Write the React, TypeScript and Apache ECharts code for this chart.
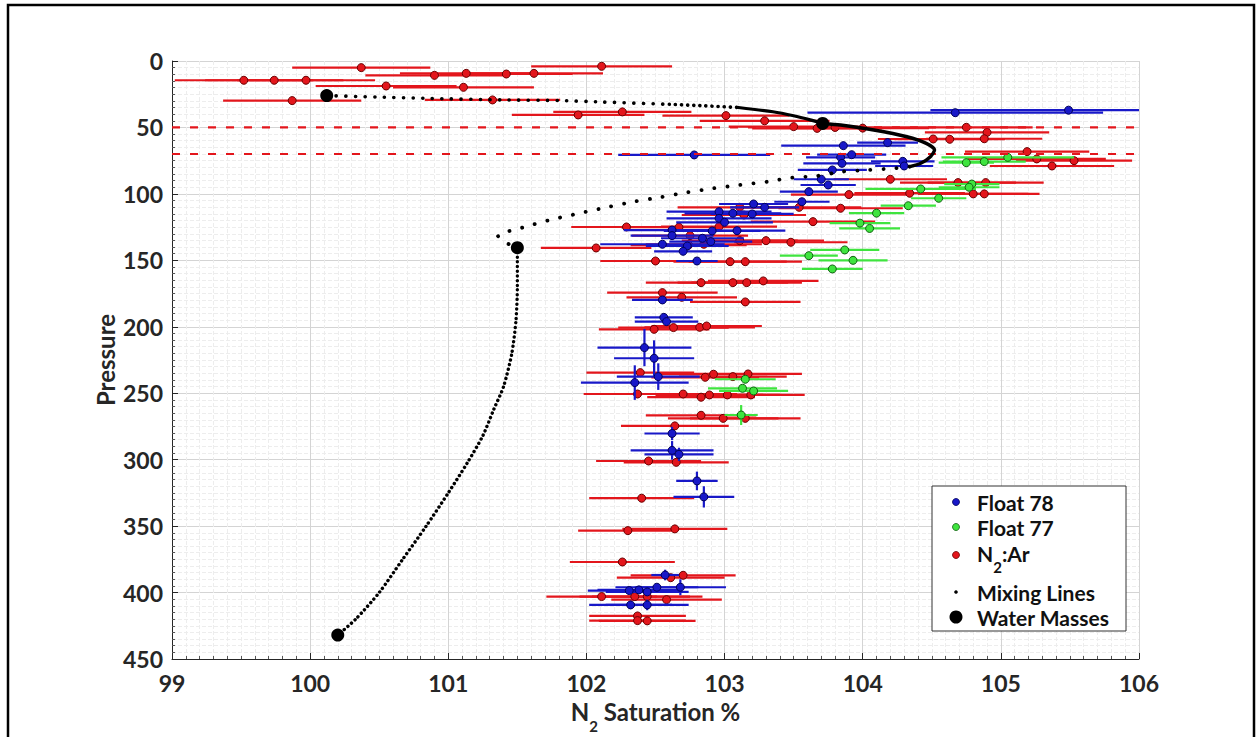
import React, { useEffect, useRef } from "react";
import * as echarts from "echarts";

const X_MIN = 99;
const X_MAX = 106;
const Y_MIN = 0;
const Y_MAX = 450;
const xTickStep = 1;
const yTickStep = 50;

// [saturation %, pressure, horizontal half-error, vertical half-error]
const float78 = [
  [104.67, 38.9, 1.07, 0], [105.49, 37.0, 1.0, 0], [102.78, 70.7, 0.55, 0],
  [103.86, 63.7, 0.45, 0], [104.18, 61.4, 0.22, 0], [103.92, 70.5, 0.25, 0],
  [103.84, 72.5, 0.25, 0], [104.29, 75.5, 0.23, 0], [104.3, 79.0, 0.21, 0],
  [103.85, 77.0, 0.28, 0], [103.78, 82.0, 0.25, 0], [103.7, 89.0, 0.2, 0],
  [103.75, 93.3, 0.2, 0], [103.61, 98.3, 0.21, 0], [103.56, 105.9, 0.2, 0],
  [103.21, 107.6, 0.25, 0], [103.29, 110.1, 0.25, 0], [102.96, 113.4, 0.38, 0],
  [103.06, 114.6, 0.35, 0], [103.2, 115.1, 0.3, 0], [102.96, 118.4, 0.38, 0],
  [103.0, 121.4, 0.35, 0], [102.91, 127.9, 0.35, 0], [103.09, 127.7, 0.35, 0],
  [102.62, 127.2, 0.35, 0], [102.62, 131.4, 0.3, 0], [102.84, 133.4, 0.3, 0],
  [102.9, 135.9, 0.3, 0], [102.55, 137.9, 0.45, 0], [102.73, 139.2, 0.3, 0],
  [102.7, 143.2, 0.21, 0], [102.8, 150.5, 0.15, 0], [102.55, 179.8, 0.22, 0],
  [102.56, 192.9, 0.21, 0], [102.58, 196.1, 0.23, 0], [102.42, 215.7, 0.34, 14],
  [102.49, 223.7, 0.29, 13.5], [102.52, 237.5, 0.3, 10], [102.35, 242.0, 0.39, 13],
  [102.62, 280.3, 0.2, 5], [102.62, 293.0, 0.3, 7], [102.67, 296.0, 0.25, 5],
  [102.8, 316.0, 0.15, 7], [102.85, 328.0, 0.22, 8], [102.57, 386.8, 0.1, 4],
  [102.68, 396.0, 0.33, 6], [102.51, 396.0, 0.3, 0], [102.31, 398.5, 0.3, 0],
  [102.38, 398.0, 0.3, 0], [102.44, 399.5, 0.3, 0], [102.32, 409.3, 0.3, 0],
  [102.44, 409.3, 0.3, 4],
];

const float77 = [
  [104.75, 76.5, 0.2, 0], [104.88, 75.7, 0.3, 0], [105.05, 72.5, 0.48, 0],
  [104.79, 92.6, 0.2, 0], [104.77, 95.0, 0.22, 0], [104.42, 96.3, 0.4, 0],
  [104.55, 103.3, 0.2, 0], [104.33, 108.9, 0.2, 0], [104.1, 114.5, 0.2, 0],
  [103.98, 122.0, 0.22, 0], [104.05, 126.0, 0.22, 0], [103.87, 142.2, 0.25, 0],
  [103.61, 146.5, 0.21, 0], [103.93, 150.0, 0.25, 0], [103.78, 156.5, 0.22, 0],
  [103.15, 239.5, 0.22, 0], [103.13, 246.3, 0.25, 0], [103.21, 248.3, 0.25, 0],
  [103.12, 266.4, 0.12, 7.5],
];

const n2ar = [
  [100.37, 5.0, 0.5, 0], [102.11, 4.0, 0.51, 0], [99.52, 14.5, 0.5, 0],
  [99.74, 14.5, 0.5, 0], [99.97, 14.5, 0.5, 0], [100.9, 10.8, 0.5, 0],
  [101.13, 9.3, 0.48, 0], [101.42, 9.8, 0.48, 0], [101.62, 9.3, 0.5, 0],
  [100.55, 18.8, 0.51, 0], [101.11, 19.8, 0.51, 0], [99.87, 29.8, 0.5, 0],
  [101.32, 29.3, 0.49, 0], [101.94, 40.6, 0.48, 0], [102.26, 38.3, 0.5, 0],
  [103.01, 41.1, 0.46, 0], [103.29, 45.0, 0.47, 0], [103.5, 49.4, 0.47, 0],
  [103.67, 50.7, 0.47, 0], [103.8, 50.0, 0.47, 0], [104.0, 50.5, 0.48, 0],
  [104.75, 49.9, 0.48, 0], [104.9, 53.7, 0.45, 0], [104.51, 58.7, 0.4, 0],
  [104.63, 58.9, 0.4, 0], [104.88, 58.5, 0.42, 0], [105.19, 68.2, 0.45, 0],
  [105.26, 73.7, 0.5, 0], [105.37, 79.0, 0.45, 0], [105.53, 75.0, 0.42, 0],
  [104.2, 89.0, 0.41, 0], [104.69, 91.5, 0.42, 0], [104.89, 91.5, 0.42, 0],
  [104.8, 100.0, 0.4, 0], [104.88, 100.0, 0.4, 0], [104.34, 99.5, 0.4, 0],
  [103.9, 100.5, 0.42, 0], [103.54, 110.1, 0.45, 0], [103.84, 110.8, 0.45, 0],
  [103.64, 120.9, 0.45, 0], [103.11, 110.1, 0.45, 0], [103.14, 115.9, 0.45, 0],
  [102.96, 124.7, 0.42, 0], [102.29, 124.9, 0.4, 0], [102.67, 125.1, 0.42, 0],
  [102.75, 131.4, 0.42, 0], [103.11, 135.2, 0.42, 0], [103.3, 135.2, 0.42, 0],
  [103.48, 136.4, 0.41, 0], [102.74, 138.5, 0.42, 0], [102.85, 137.9, 0.42, 0],
  [102.07, 140.7, 0.4, 0], [102.5, 150.5, 0.4, 0], [103.04, 151.0, 0.41, 0],
  [103.15, 151.0, 0.41, 0], [102.83, 166.8, 0.4, 0], [103.06, 166.8, 0.4, 0],
  [103.16, 166.8, 0.4, 0], [103.28, 165.5, 0.4, 0], [102.55, 174.3, 0.4, 0],
  [102.69, 177.8, 0.4, 0], [103.15, 181.3, 0.4, 0], [102.49, 201.9, 0.4, 0],
  [102.63, 200.6, 0.4, 0], [102.82, 200.4, 0.4, 0], [102.87, 199.4, 0.4, 0],
  [102.39, 234.5, 0.39, 0], [102.86, 238.0, 0.39, 0], [102.92, 235.7, 0.39, 0],
  [103.06, 237.5, 0.39, 0], [103.17, 235.5, 0.39, 0], [102.37, 250.6, 0.39, 0],
  [102.7, 250.6, 0.39, 0], [102.83, 253.0, 0.39, 0], [102.89, 251.3, 0.39, 0],
  [103.02, 251.3, 0.39, 0], [103.19, 251.3, 0.39, 0], [102.83, 266.6, 0.4, 0],
  [102.99, 268.9, 0.4, 0], [103.15, 268.9, 0.4, 0], [102.64, 274.6, 0.39, 0],
  [102.45, 301.0, 0.38, 0], [102.65, 302.0, 0.38, 0], [102.4, 329.0, 0.38, 0],
  [102.3, 353.4, 0.36, 0], [102.64, 352.1, 0.38, 0], [102.26, 377.0, 0.38, 0],
  [102.7, 387.0, 0.38, 0], [102.61, 388.8, 0.39, 0], [102.11, 403.0, 0.4, 0],
  [102.35, 403.0, 0.4, 0], [102.44, 403.0, 0.4, 0], [102.58, 405.3, 0.4, 0],
  [102.37, 417.6, 0.35, 0], [102.37, 421.1, 0.35, 0], [102.44, 421.3, 0.35, 0],
];

// mixing lines
const mixUpperSparse = [
  [100.12, 26], [100.5, 27.2], [100.84, 28.1], [101.4, 29.3], [101.81, 29.8],
  [102.1, 30.8], [102.6, 32.6],
];
const mixUpperDense = [[102.6, 32.6], [102.85, 33.7], [103.1, 35.0]];
const mixUpperSolid = [[103.1, 35.0], [103.35, 38.2], [103.5, 41.2], [103.62, 44.3], [103.71, 47]];
const mixBulge = [
  [103.71, 47], [103.84, 48.2], [104.08, 51.9], [104.32, 57], [104.46, 62],
  [104.52, 67], [104.49, 72], [104.42, 77], [104.34, 79.5],
];
const mixMiddle = [
  [104.34, 79.5], [104.22, 80.8], [104.04, 82], [103.85, 83.3], [103.67, 86.5],
  [103.49, 87.8], [103.31, 90.8], [103.11, 93.3], [102.92, 95.8], [102.73, 98.8],
  [102.53, 102.6], [102.34, 105.9], [102.15, 110], [101.95, 114.6], [101.76, 119],
  [101.56, 124.7], [101.36, 131.7], [101.41, 136.4], [101.5, 140.5],
];
const mixDeep = [
  [101.5, 140.5], [101.5, 150], [101.5, 170], [101.49, 195], [101.46, 220],
  [101.4, 245], [101.33, 262], [101.25, 282], [101.14, 302], [101.0, 325],
  [100.84, 350], [100.67, 375], [100.5, 400], [100.33, 420], [100.2, 432],
];
const waterMasses = [[100.12, 26], [103.71, 47], [101.5, 140.5], [100.2, 432]];
const dashedPressures = [50, 70];

const legendItems = ["Float 78", "Float 77", "N2:Ar", "Mixing Lines", "Water Masses"];

const FONT = "Lato, 'Open Sans', sans-serif";
const AX = "#262626";
const RED = "#e3161c";
const BLUE = "#1818c8";
const GREEN = "#3fe43f";

function errorSeries(name: string, data: number[][], color: string, z: number) {
  return {
    type: "custom",
    name,
    data,
    z,
    silent: true,
    encode: { x: 0, y: 1 },
    renderItem: (_params: any, api: any) => {
      const x = api.value(0);
      const p = api.value(1);
      const hw = api.value(2);
      const vh = api.value(3);
      const a = api.coord([Math.max(X_MIN, x - hw), p]);
      const b = api.coord([Math.min(X_MAX, x + hw), p]);
      const children: any[] = [
        { type: "line", shape: { x1: a[0], y1: a[1], x2: b[0], y2: b[1] }, style: { stroke: color, lineWidth: 2.2 } },
      ];
      if (vh > 0) {
        const t = api.coord([x, p - vh]);
        const d = api.coord([x, p + vh]);
        children.push({ type: "line", shape: { x1: t[0], y1: t[1], x2: d[0], y2: d[1] }, style: { stroke: color, lineWidth: 2.2 } });
      }
      return { type: "group", children };
    },
  };
}

function dotSeries(name: string, data: number[][], fill: string, border: string, z: number) {
  return {
    type: "scatter",
    name,
    data: data.map((d) => [d[0], d[1]]),
    z,
    symbolSize: 8,
    itemStyle: { color: fill, borderColor: border, borderWidth: 1, opacity: 1 },
  };
}

function mixSeries(data: number[][], width: number, dash: any, z: number) {
  return {
    type: "line",
    data,
    z,
    symbol: "none",
    smooth: 0.25,
    silent: true,
    lineStyle: { color: "#000", width, type: dash, cap: "round", opacity: 1 },
  };
}

export default function App() {
  const ref = useRef<HTMLDivElement>(null);
  useEffect(() => {
    if (!ref.current) return;
    const chart = echarts.init(ref.current, undefined, { renderer: "svg" });
    const cv = document.createElement("canvas").getContext("2d")!;
    const mw = (t: string, size: number) => {
      cv.font = `bold ${size}px ${FONT}`;
      return cv.measureText(t).width;
    };

    // x axis title with subscript
    const tSize = 24;
    const sSize = 15;
    const wN = mw("N", tSize);
    const w2 = mw("2", sSize);
    const wRest = mw(" Saturation %", tSize);
    const tStart = 655.5 - (wN + w2 + wRest) / 2;
    const tY = 711;

    const lgX = 977;
    const lgRows = [502, 527, 553, 592, 617];
    const lgSize = 21;
    const lgN = mw("N", lgSize);
    const lg2 = mw("2", 15);

    const txt = (text: string, x: number, y: number, size: number, extra: any = {}) => ({
      type: "text",
      x,
      y,
      z: 100,
      silent: true,
      style: {
        text,
        fontSize: size,
        fontWeight: "bold",
        fontFamily: FONT,
        fill: "#111",
        textVerticalAlign: "middle",
        ...extra,
      },
    });

    const graphic: any[] = [
      { type: "rect", z: 100, silent: true, shape: { x: 8, y: 5, width: 1246, height: 800 }, style: { fill: "none", stroke: "#000", lineWidth: 2.5 } },
      { type: "rect", z: 100, silent: true, shape: { x: 932, y: 486, width: 194, height: 145 }, style: { fill: "#fff", stroke: "#333", lineWidth: 1 } },
      { type: "circle", z: 101, silent: true, shape: { cx: 956, cy: lgRows[0], r: 3.5 }, style: { fill: BLUE, stroke: "#00005a", lineWidth: 0.8 } },
      { type: "circle", z: 101, silent: true, shape: { cx: 956, cy: lgRows[1], r: 3.5 }, style: { fill: GREEN, stroke: "#106010", lineWidth: 0.8 } },
      { type: "circle", z: 101, silent: true, shape: { cx: 956, cy: lgRows[2] + 2, r: 3.5 }, style: { fill: RED, stroke: "#6a0000", lineWidth: 0.8 } },
      { type: "circle", z: 101, silent: true, shape: { cx: 956, cy: lgRows[3], r: 1.8 }, style: { fill: "#000" } },
      { type: "circle", z: 101, silent: true, shape: { cx: 956, cy: lgRows[4], r: 6.5 }, style: { fill: "#000" } },
      txt(legendItems[0], lgX, lgRows[0], lgSize),
      txt(legendItems[1], lgX, lgRows[1], lgSize),
      txt("N", lgX, lgRows[2], lgSize),
      txt("2", lgX + lgN, lgRows[2] + 14, 15),
      txt(":Ar", lgX + lgN + lg2, lgRows[2], lgSize),
      txt(legendItems[3], lgX, lgRows[3], lgSize),
      txt(legendItems[4], lgX, lgRows[4], lgSize),
      txt("N", tStart, tY, tSize, { fill: AX }),
      txt("2", tStart + wN, tY + 15, sSize, { fill: AX }),
      txt(" Saturation %", tStart + wN + w2, tY, tSize, { fill: AX }),
      {
        type: "text",
        x: 105,
        y: 360,
        rotation: Math.PI / 2,
        z: 100,
        silent: true,
        style: { text: "Pressure", fontSize: tSize, fontWeight: "bold", fontFamily: FONT, fill: AX, textAlign: "center", textVerticalAlign: "middle" },
      },
    ];

    const axisCommon = {
      type: "value",
      axisLine: { show: true, onZero: false, lineStyle: { color: AX, width: 1 } },
      axisTick: { show: true, inside: true, length: 6, lineStyle: { color: AX } },
      minorTick: { show: true, splitNumber: 10, length: 3, lineStyle: { color: "#555" } },
      splitLine: { show: true, lineStyle: { color: "#d4d4d4", width: 1 } },
      minorSplitLine: { show: true, lineStyle: { color: "#ededed", width: 1, type: "dashed" } },
      axisLabel: { fontSize: 23, fontWeight: "bold", fontFamily: FONT, color: AX },
    };

    chart.setOption({
      animation: false,
      backgroundColor: "#fff",
      grid: { left: 172, right: 118, top: 61, bottom: 78 },
      xAxis: { ...axisCommon, min: X_MIN, max: X_MAX, interval: xTickStep, axisLabel: { ...axisCommon.axisLabel, margin: 12 } },
      yAxis: { ...axisCommon, min: Y_MIN, max: Y_MAX, interval: yTickStep, inverse: true, axisLabel: { ...axisCommon.axisLabel, margin: 9 } },
      graphic,
      series: [
        errorSeries("N2:Ar bars", n2ar, RED, 2),
        dotSeries("N2:Ar", n2ar, RED, "#6a0000", 3),
        errorSeries("Float 78 bars", float78, BLUE, 4),
        dotSeries("Float 78", float78, BLUE, "#00005a", 5),
        errorSeries("Float 77 bars", float77, GREEN, 6),
        dotSeries("Float 77", float77, GREEN, "#106010", 7),
        ...dashedPressures.map((p) => ({
          type: "line",
          z: 8,
          symbol: "none",
          silent: true,
          data: [[X_MIN, p], [X_MAX, p]],
          lineStyle: { color: RED, width: 2.2, type: [8, 10] },
        })),
        mixSeries(mixUpperSparse, 3.6, [0.1, 9.5], 9),
        mixSeries(mixUpperDense, 3.6, [0.1, 6], 9),
        mixSeries(mixUpperSolid, 3.2, "solid", 9),
        mixSeries(mixBulge, 3.4, "solid", 9),
        mixSeries(mixMiddle, 3.8, [0.1, 13], 9),
        mixSeries(mixDeep, 3.4, [0.1, 4.6], 9),
        {
          type: "scatter",
          name: "Water Masses",
          z: 10,
          data: waterMasses,
          symbolSize: 13,
          itemStyle: { color: "#000", opacity: 1 },
        },
      ],
    });
    return () => chart.dispose();
  }, []);
  return <div ref={ref} style={{ position: "fixed", left: 0, top: 0, width: 1257, height: 737 }} />;
}
